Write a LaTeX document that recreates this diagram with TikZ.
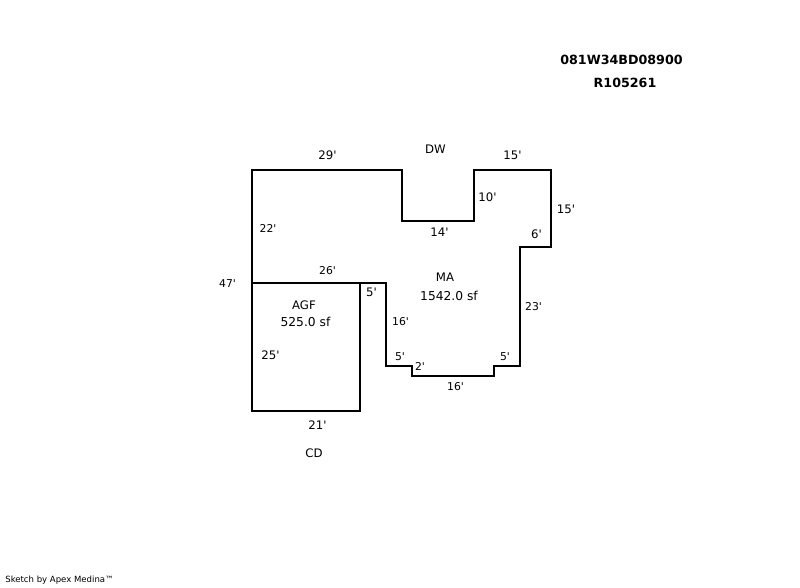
\documentclass[tikz,border=0pt]{standalone}
\usepackage{fontspec}
\setmainfont{DejaVu Sans}
\newcommand{\ftmark}{\textquotesingle}
\tikzset{
  wall/.style={draw=black,line width=1.5pt,line join=miter},
  big/.style={inner sep=0pt,font=\fontsize{8.8pt}{10pt}\selectfont,text=black},
  small/.style={inner sep=0pt,font=\fontsize{8.1pt}{10pt}\selectfont,text=black},
  area/.style={inner sep=0pt,font=\fontsize{9.2pt}{11pt}\selectfont,text=black},
  head/.style={inner sep=0pt,font=\fontsize{9.5pt}{11pt}\bfseries\selectfont,text=black},
  foot/.style={inner sep=0pt,font=\fontsize{6.4pt}{8pt}\selectfont,text=black}
}
\begin{document}
\begin{tikzpicture}[x=0.75pt,y=-0.75pt]
\useasboundingbox (0,0) rectangle (800,587);
\fill[white] (0,0) rectangle (800,587);
% main area outline
\draw[wall] (252,283) -- (252,170) -- (402,170) -- (402,221) -- (474,221) -- (474,170)
  -- (551,170) -- (551,247) -- (520,247) -- (520,366) -- (494,366) -- (494,376)
  -- (412,376) -- (412,366) -- (386,366) -- (386,283) -- cycle;
% garage
\draw[wall] (252,283) -- (360,283) -- (360,411) -- (252,411) -- cycle;
% titles
\node[head] (parcel) at (621.5,59.5) {081W34BD08900};
\node[head] (account) at (625,83) {R105261};
\node[foot] (credit) at (59.5,580) {Sketch by Apex Medina™};
% labels
\node[big] (dw) at (435.5,149) {DW};
\node[big] (cd) at (314,453) {CD};
\node[big] (d29) at (327.5,155.5) {29\ftmark};
\node[big] (d15a) at (512.5,155.5) {15\ftmark};
\node[big] (d10) at (487.5,197.5) {10\ftmark};
\node[big] (d15b) at (566,209.5) {15\ftmark};
\node[big] (d14) at (439.5,232.5) {14\ftmark};
\node[big] (d6) at (536.5,234.5) {6\ftmark};
\node[small] (d22) at (268,228.5) {22\ftmark};
\node[small] (d26) at (327.5,271) {26\ftmark};
\node[small] (d47) at (227.5,284) {47\ftmark};
\node[big] (ma) at (445,277) {MA};
\node[area] (masf) at (449,295.5) {1542.0 sf};
\node[big] (d5a) at (371.5,292.5) {5\ftmark};
\node[small] (d16a) at (400.5,322) {16\ftmark};
\node[small] (d23) at (533.5,307) {23\ftmark};
\node[big] (agf) at (304,305) {AGF};
\node[area] (agfsf) at (305.5,321.5) {525.0 sf};
\node[big] (d25) at (270.5,355) {25\ftmark};
\node[small] (d5b) at (400,357) {5\ftmark};
\node[small] (d2) at (420,366) {2\ftmark};
\node[small] (d5c) at (505,357) {5\ftmark};
\node[small] (d16b) at (455.5,387) {16\ftmark};
\node[big] (d21) at (317.5,425.5) {21\ftmark};
\end{tikzpicture}
\end{document}
